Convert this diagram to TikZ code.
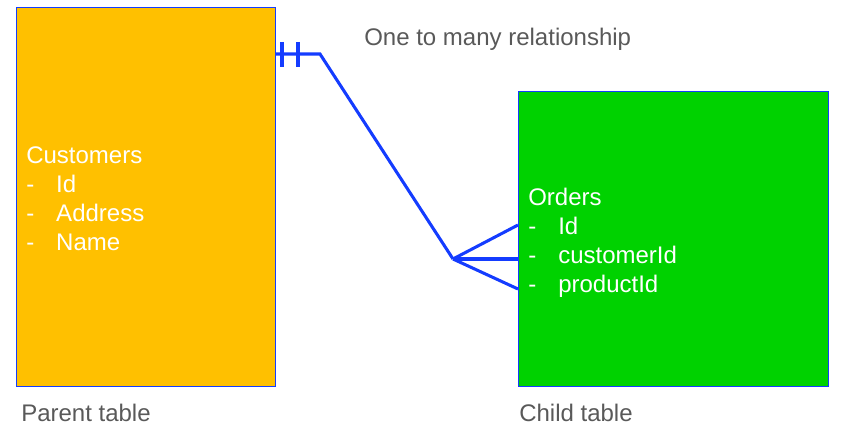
\documentclass[tikz,border=0pt]{standalone}
\usepackage{fontspec}
\setmainfont{Liberation Sans}
\usetikzlibrary{calc}
\definecolor{boxyellow}{RGB}{255,192,0}
\definecolor{boxgreen}{RGB}{0,210,0}
\definecolor{linkblue}{RGB}{20,60,255}
\definecolor{labelgray}{RGB}{89,89,89}
\tikzset{
  tablebox/.style={draw=linkblue, line width=0.9pt, inner sep=0pt, anchor=north west},
  link/.style={draw=linkblue, line width=2.3pt, line join=miter},
  listtext/.style={text=white, font=\fontsize{18pt}{21.75pt}\selectfont, anchor=base west, inner sep=0pt, align=left},
  caption/.style={text=labelgray, font=\fontsize{18pt}{21.75pt}\selectfont, anchor=base west, inner sep=0pt}
}
\newcommand{\itm}[1]{\makebox[22.5pt][l]{-}#1}
\begin{document}
\begin{tikzpicture}[x=0.75pt, y=-0.75pt]
\useasboundingbox (0,0) rectangle (841,431);
\node[tablebox, fill=boxyellow, minimum width=194.25pt, minimum height=284.25pt] (cust) at (16,7) {};
\node[tablebox, fill=boxgreen, minimum width=232.5pt, minimum height=221.25pt] (ord) at (518,91) {};
\node[listtext] (custtext) at (26,250) {Customers\\\itm{Id}\\\itm{Address}\\\itm{Name}};
\node[listtext] (ordtext) at (528,292) {Orders\\\itm{Id}\\\itm{customerId}\\\itm{productId}};
\node[caption] (rel) at (364,46) {One to many relationship};
\node[caption] (parent) at (21,421) {Parent table};
\node[caption] (child) at (519,421) {Child table};
\coordinate (start) at (275,54);
\coordinate (knee) at (320,54);
\coordinate (fork) at (453,259);
\coordinate (f1) at (518,225);
\coordinate (f2) at (518,259);
\coordinate (f3) at (518,289);
\coordinate (t1a) at (282,42);
\coordinate (t1b) at (282,67);
\coordinate (t2a) at (298,42);
\coordinate (t2b) at (298,67);
\draw[link] (cust.east |- start) -- (knee) -- (fork);
\draw[link] (t1a) -- (t1b);
\draw[link] (t2a) -- (t2b);
\draw[link] (fork) -- (ord.west |- f1);
\draw[link] (fork) -- (ord.west |- f2);
\draw[link] (fork) -- (ord.west |- f3);
\end{tikzpicture}
\end{document}
